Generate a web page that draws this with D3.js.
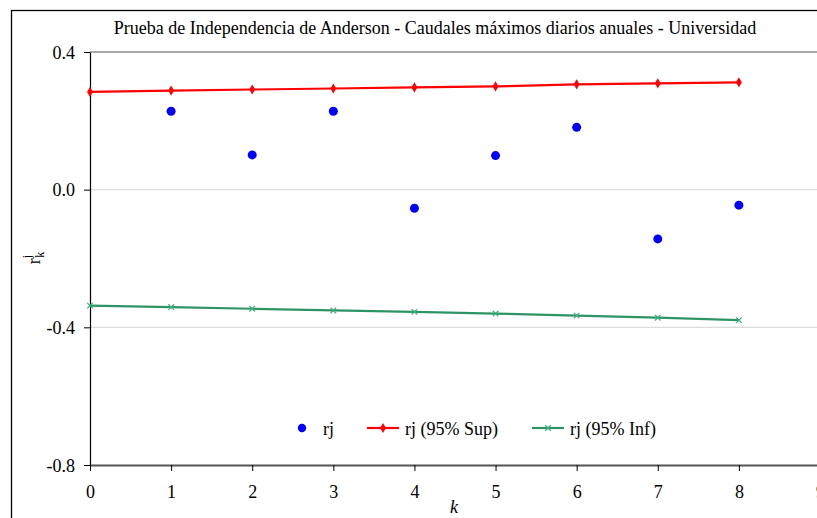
<!DOCTYPE html>
<html><head><meta charset="utf-8">
<script src="https://cdn.jsdelivr.net/npm/d3@7"></script>
<style>
html,body{margin:0;padding:0;background:#fff;overflow:hidden;}
</style></head>
<body>
<svg id="c" width="817" height="518"></svg>
<script>
const title = "Prueba de Independencia de Anderson - Caudales máximos diarios anuales - Universidad";
const kAll = [0,1,2,3,4,5,6,7,8];
const kObs = [1,2,3,4,5,6,7,8];
const rj = [0.228, 0.101, 0.228, -0.054, 0.099, 0.181, -0.143, -0.045];
const rjSup = [0.284, 0.288, 0.291, 0.294, 0.297, 0.300, 0.306, 0.309, 0.312];
const rjInf = [-0.337, -0.341, -0.346, -0.351, -0.355, -0.360, -0.366, -0.372, -0.379];
const xTicks = [0,1,2,3,4,5,6,7,8,9];
const yTicks = [-0.8,-0.4,0.0,0.4];
const legendLabels = ["rj","rj (95% Sup)","rj (95% Inf)"];

const FONT = '"Liberation Serif","Times New Roman",serif';
const svg = d3.select("#c").attr("font-family",FONT);
const x = d3.scaleLinear().domain([0,9]).range([90,820]);
const y = d3.scaleLinear().domain([-0.8,0.4]).range([465,52]);
const yFmt = d => d.toFixed(1);

svg.append("rect").attr("x",11.5).attr("y",10.5).attr("width",900).attr("height",600)
  .attr("fill","none").attr("stroke","#000").attr("stroke-width",1.3);

svg.append("text").attr("x",435).attr("y",34).attr("text-anchor","middle")
  .attr("font-size",18).text(title);

svg.append("g").selectAll("line").data(yTicks.filter(d=>d>-0.8)).join("line")
  .attr("x1",90).attr("x2",820).attr("y1",d=>y(d)).attr("y2",d=>y(d))
  .attr("stroke",d=>d===0.4?"#8c8c8c":"#dcdcdc").attr("stroke-width",d=>d===0.4?1.5:1.3);

const ya = svg.append("g").attr("transform","translate(90,0)")
  .call(d3.axisLeft(y).tickValues(yTicks).tickFormat(yFmt).tickSize(6).tickSizeOuter(0));
ya.attr("font-family",FONT);
ya.select(".domain").attr("stroke","#000").attr("stroke-width",1.2);
ya.selectAll(".tick line").attr("stroke","#000");
ya.selectAll(".tick text").attr("font-size",18).attr("fill","#000").attr("x",-15).attr("dy","0.35em");

const xa = svg.append("g").attr("transform","translate(0,465)")
  .call(d3.axisBottom(x).tickValues(xTicks).tickFormat(d3.format("d")).tickSize(6).tickSizeOuter(0));
xa.attr("font-family",FONT);
xa.select(".domain").attr("stroke","#555").attr("stroke-width",2.2);
xa.selectAll(".tick line").attr("stroke","#000");
xa.selectAll(".tick text").attr("font-size",18).attr("fill","#000").attr("y",20);

svg.append("text").attr("x",454).attr("y",513).attr("text-anchor","middle")
  .attr("font-size",18).attr("font-style","italic").text("k");
const yl = svg.append("text").attr("transform","translate(40,258) rotate(-90)")
  .attr("text-anchor","middle").attr("font-size",18);
yl.append("tspan").text("r");
yl.append("tspan").attr("font-size",12).attr("dy",-9).text("j");
yl.append("tspan").attr("font-size",12).attr("dx",-3).attr("dy",13).text("k");

const line = d3.line().x(d=>x(d[0])).y(d=>y(d[1]));
const supData = kAll.map((k,i)=>[k,rjSup[i]]);
const infData = kAll.map((k,i)=>[k,rjInf[i]]);
svg.append("path").datum(supData).attr("d",line).attr("fill","none").attr("stroke","#ff0000").attr("stroke-width",2.2);
svg.append("path").datum(infData).attr("d",line).attr("fill","none").attr("stroke","#2e9466").attr("stroke-width",2.2);

const diamond = d3.symbol().type(d3.symbolDiamond).size(30);
svg.append("g").selectAll("path").data(supData).join("path")
  .attr("transform",d=>`translate(${x(d[0])},${y(d[1])})`).attr("d",diamond).attr("fill","#ff0000");
const cross = d3.symbol().type(d3.symbolX).size(22);
svg.append("g").selectAll("path").data(infData).join("path")
  .attr("transform",d=>`translate(${x(d[0])},${y(d[1])})`).attr("d",cross)
  .attr("fill","none").attr("stroke","#3cb07a").attr("stroke-width",1.2);

svg.append("g").selectAll("circle").data(kObs.map((k,i)=>[k,rj[i]])).join("circle")
  .attr("cx",d=>x(d[0])).attr("cy",d=>y(d[1])).attr("r",4.5).attr("fill","#0000ff");

const lg = svg.append("g");
lg.append("circle").attr("cx",302).attr("cy",428).attr("r",4.2).attr("fill","#0000ff");
lg.append("text").attr("x",323).attr("y",435).attr("font-size",18).text(legendLabels[0]);
lg.append("line").attr("x1",367).attr("x2",399).attr("y1",428).attr("y2",428).attr("stroke","#ff0000").attr("stroke-width",2.2);
lg.append("path").attr("transform","translate(383,428)").attr("d",diamond).attr("fill","#ff0000");
lg.append("text").attr("x",405).attr("y",435).attr("font-size",18).text(legendLabels[1]);
lg.append("line").attr("x1",532).attr("x2",564).attr("y1",428).attr("y2",428).attr("stroke","#2e9466").attr("stroke-width",2.2);
lg.append("path").attr("transform","translate(548,428)").attr("d",cross).attr("fill","none").attr("stroke","#3cb07a").attr("stroke-width",1.2);
lg.append("text").attr("x",570).attr("y",435).attr("font-size",18).text(legendLabels[2]);
</script>
</body></html>
